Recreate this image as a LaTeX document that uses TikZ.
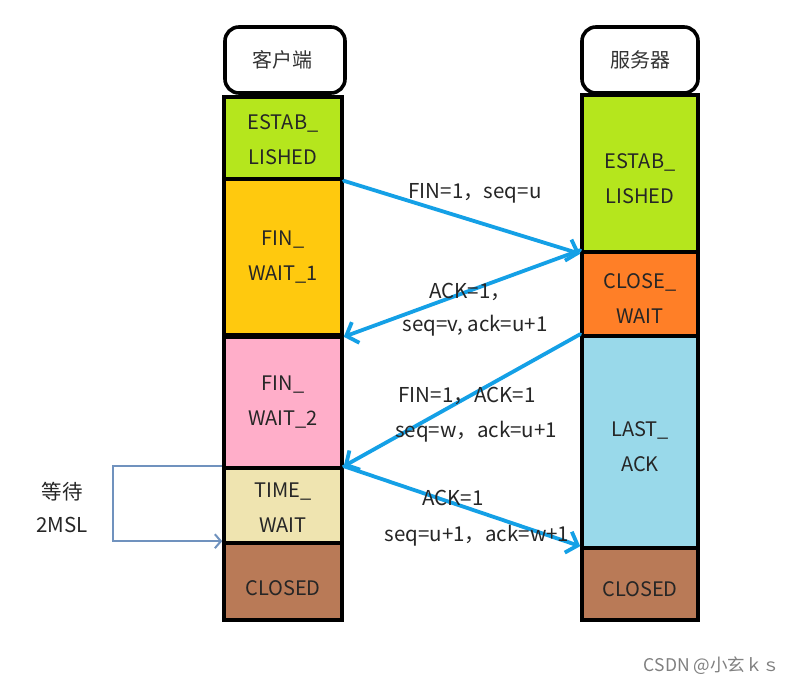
\documentclass[tikz,border=0pt]{standalone}
\usepackage{fontspec}
\setmainfont{Noto Sans CJK SC}
\usetikzlibrary{arrows.meta}
\definecolor{cgreen}{HTML}{B5E61D}
\definecolor{cgold}{HTML}{FFC90E}
\definecolor{cpink}{HTML}{FFAEC9}
\definecolor{ccream}{HTML}{EFE4B0}
\definecolor{cbrown}{HTML}{B97A57}
\definecolor{corange}{HTML}{FF7F27}
\definecolor{cturq}{HTML}{99D9EA}
\definecolor{cblue}{HTML}{14A0E6}
\definecolor{cgrayblue}{HTML}{7092BE}
\newcommand{\lowr}[2]{\raisebox{-#1}[\height][\depth]{#2}}
\tikzset{
  statebox/.style={draw=black, line width=3.6bp, minimum width=#1, inner sep=0pt, align=center,
    font=\fontsize{20bp}{35bp}\selectfont, text=black!85},
  headbox/.style={draw=black, line width=3.6bp, rounded corners=14bp, fill=white, inner sep=0pt,
    font=\fontsize{20bp}{22bp}\selectfont, text=black!80},
  lbl/.style={font=\fontsize{20.5bp}{22bp}\selectfont, text=black!85, inner sep=0pt},
  msg/.style={draw=cblue, line width=3.8bp, line cap=round,
    -{Straight Barb[length=10bp,width=22bp,line width=3.8bp]}},
  waitarrow/.style={draw=cgrayblue, line width=2bp,
    -{Straight Barb[length=6bp,width=14bp,line width=2bp]}}
}
\begin{document}
\begin{tikzpicture}[x=1bp,y=-1bp]
\fill[white] (0,0) rectangle (802,686);
\useasboundingbox (0,0) rectangle (802,686);
% client column
\node[headbox, minimum width=120bp, minimum height=66bp] (cH) at (285,60) {\hspace*{-6bp}客户端};
\node[statebox=118bp, fill=cgreen, minimum height=82bp] (cE) at (283,138) {\lowr{1.5bp}{ESTAB\_}\\\lowr{1.5bp}{LISHED}};
\node[statebox=118bp, fill=cgold, minimum height=156bp] (cF1) at (283,257) {FIN\_\\WAIT\_1};
\node[statebox=118bp, fill=cpink, minimum height=131bp] (cF2) at (283,402.5) {FIN\_\\WAIT\_2};
\node[statebox=118bp, fill=ccream, minimum height=75bp] (cT) at (283,505.5) {\lowr{2.5bp}{TIME\_}\\\lowr{2.5bp}{WAIT}};
\node[statebox=118bp, fill=cbrown, minimum height=77bp] (cC) at (283,581.5) {\lowr{7bp}{CLOSED}};
% server column
\node[headbox, minimum width=116bp, minimum height=66bp] (sH) at (640,60) {服务器};
\node[statebox=116bp, fill=cgreen, minimum height=157bp] (sE) at (640,173.5) {\lowr{5.5bp}{ESTAB\_}\\\lowr{5.5bp}{LISHED}};
\node[statebox=116bp, fill=corange, minimum height=84bp] (sCW) at (640,294) {\lowr{4.5bp}{CLOSE\_}\\\lowr{4.5bp}{WAIT}};
\node[statebox=116bp, fill=cturq, minimum height=212bp] (sL) at (640,442) {\lowr{5bp}{LAST\_}\\\lowr{5bp}{ACK}};
\node[statebox=116bp, fill=cbrown, minimum height=72bp] (sC) at (640,584) {\lowr{5bp}{CLOSED}};
% messages
\draw[msg] (cE.south east) -- (sE.south west);
\draw[msg] (sCW.north west) -- (cF1.south east);
\draw[msg] (sL.north west) -- (cT.north east);
\draw[msg] (cT.north east) -- (sC.north west);
% labels
\node[lbl] (l1) at (475,193) {FIN=1，seq=u};
\node[lbl] (l2a) at (470,292) {ACK=1，};
\node[lbl] (l2b) at (475,326) {seq=v, ack=u+1};
\node[lbl] (l3a) at (467,396) {FIN=1，ACK=1};
\node[lbl] (l3b) at (476,432) {seq=w，ack=u+1};
\node[lbl] (l4a) at (453,498) {ACK=1};
\node[lbl] (l4b) at (477,536) {seq=u+1，ack=w+1};
% wait 2MSL
\draw[waitarrow] (cT.north west) -- ++(-109,0) |- (cC.north west);
\node[lbl] (w1) at (62,492) {等待};
\node[lbl] (w2) at (62,525) {2MSL};
% watermark
\node[font=\fontsize{17.5bp}{18bp}\selectfont, text=black!50, inner sep=0pt] (wm) at (712,666) {CSDN @小玄ｋｓ};
\end{tikzpicture}
\end{document}
